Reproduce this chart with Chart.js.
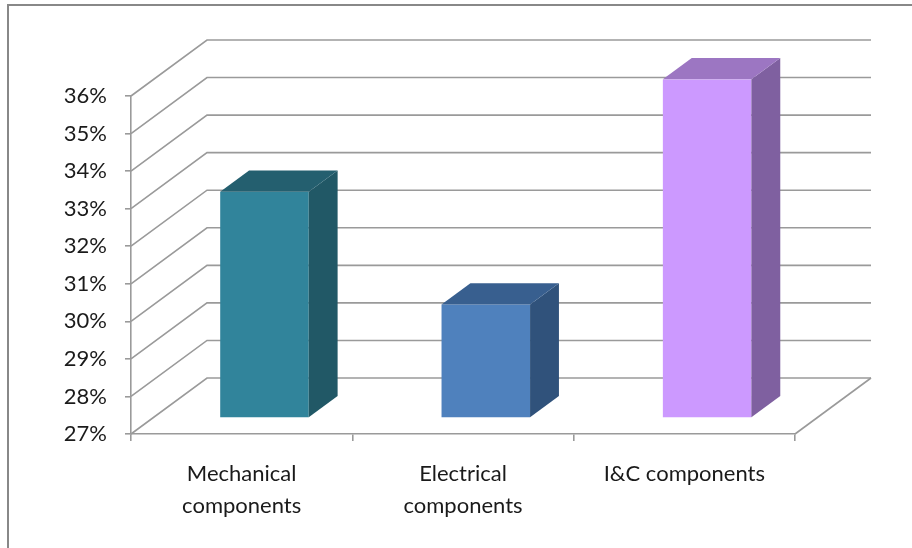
<!DOCTYPE html>
<html>
<head>
<meta charset="utf-8">
<script src="https://cdn.jsdelivr.net/npm/chart.js@4.4.0/dist/chart.umd.min.js"></script>
<style>
  body { margin: 0; background: #fff; }
</style>
</head>
<body>
<canvas id="my-chart" width="912" height="548"></canvas>
<script>
'use strict';

// data
let categories = [['Mechanical', 'components'], ['Electrical', 'components'], 'I&C components'];
let shares = [33, 30, 36];
let yMin = 27;
let yMax = 36;

let frontColors = ['#31849B', '#4F81BD', '#CC99FF'];
let sideColors = ['#215866', '#30527B', '#7F60A0'];
let topColors = ['#245F6F', '#385F8F', '#9C76C2'];

// how far back the wall sits, and where the boxes sit inside that depth
const DX = 76;
const DY = -56;
const BAR_FRONT = 0.3;
const BAR_DEPTH = 0.38;
const LINE = '#9a9a9a';

let canvasElem = document.getElementById('my-chart');

let box3d = {
  id: 'box3d',
  beforeDraw(chart) {
    let ctx = chart.ctx;
    ctx.save();
    ctx.strokeStyle = '#888';
    ctx.lineWidth = 2;
    ctx.strokeRect(8, 5, 920, 560);
    ctx.restore();
  },
  beforeDatasetsDraw(chart) {
    let { ctx, chartArea: a, scales: { y } } = chart;
    ctx.save();
    ctx.strokeStyle = LINE;
    ctx.lineWidth = 1.6;
    y.ticks.forEach(t => {
      let py = y.getPixelForValue(t.value);
      ctx.beginPath();
      ctx.moveTo(a.left, py);
      ctx.lineTo(a.left + DX, py + DY);
      ctx.lineTo(a.right + DX, py + DY);
      ctx.stroke();
    });
    // right edge of the floor
    ctx.beginPath();
    ctx.moveTo(a.right, a.bottom);
    ctx.lineTo(a.right + DX, a.bottom + DY);
    ctx.stroke();
    ctx.restore();

    // front faces are drawn by chart.js, pushed into the box
    ctx.save();
    ctx.translate(DX * BAR_FRONT, DY * BAR_FRONT);
  },
  afterDatasetsDraw(chart) {
    let { ctx, chartArea: a } = chart;
    ctx.restore();
    let ox = DX * BAR_FRONT, oy = DY * BAR_FRONT;
    let dx = DX * BAR_DEPTH, dy = DY * BAR_DEPTH;
    chart.getDatasetMeta(0).data.forEach((bar, i) => {
      let p = bar.getProps(['x', 'y', 'base', 'width'], true);
      let l = p.x - p.width / 2 + ox;
      let r = p.x + p.width / 2 + ox;
      let t = p.y + oy;
      let b = Math.min(p.base, a.bottom) + oy;
      ctx.save();
      ctx.fillStyle = sideColors[i];
      ctx.beginPath();
      ctx.moveTo(r, t);
      ctx.lineTo(r + dx, t + dy);
      ctx.lineTo(r + dx, b + dy);
      ctx.lineTo(r, b);
      ctx.closePath();
      ctx.fill();
      ctx.fillStyle = topColors[i];
      ctx.beginPath();
      ctx.moveTo(l, t);
      ctx.lineTo(l + dx, t + dy);
      ctx.lineTo(r + dx, t + dy);
      ctx.lineTo(r, t);
      ctx.closePath();
      ctx.fill();
      ctx.restore();
    });
  }
};

function renderChart() {
  Chart.defaults.font.family = 'Lato, "Liberation Sans", sans-serif'; //eslint-disable-line
  Chart.defaults.font.size = 22; //eslint-disable-line

  let chartObj = {
    type: 'bar',
    data: {
      labels: categories,
      datasets: [{
        data: shares,
        backgroundColor: frontColors,
        borderWidth: 0,
        barPercentage: 0.4,
        categoryPercentage: 1
      }]
    },
    options: {
      responsive: false,
      animation: false,
      devicePixelRatio: 1,
      layout: { padding: { top: 96, right: 117, bottom: 0, left: 0 } },
      scales: {
        x: {
          grid: { drawOnChartArea: false, tickLength: 7, color: LINE, lineWidth: 1.6 },
          border: { color: LINE, width: 1.6 },
          ticks: { color: '#1a1a1a', padding: 17, maxRotation: 0, font: { size: 22, lineHeight: 1.45 } },
          afterFit: s => { s.height = 114; }
        },
        y: {
          min: yMin,
          max: yMax,
          grid: { drawOnChartArea: false, tickLength: 6, color: LINE, lineWidth: 1.6 },
          border: { color: LINE, width: 1.6 },
          ticks: {
            stepSize: 1,
            color: '#1a1a1a',
            padding: 18,
            callback: v => v + '%'
          },
          afterFit: s => { s.width = 131; }
        }
      },
      plugins: {
        legend: { display: false },
        tooltip: { enabled: false }
      }
    },
    plugins: [box3d]
  };

  new Chart(canvasElem, chartObj); //eslint-disable-line
}

renderChart();
</script>
</body>
</html>
